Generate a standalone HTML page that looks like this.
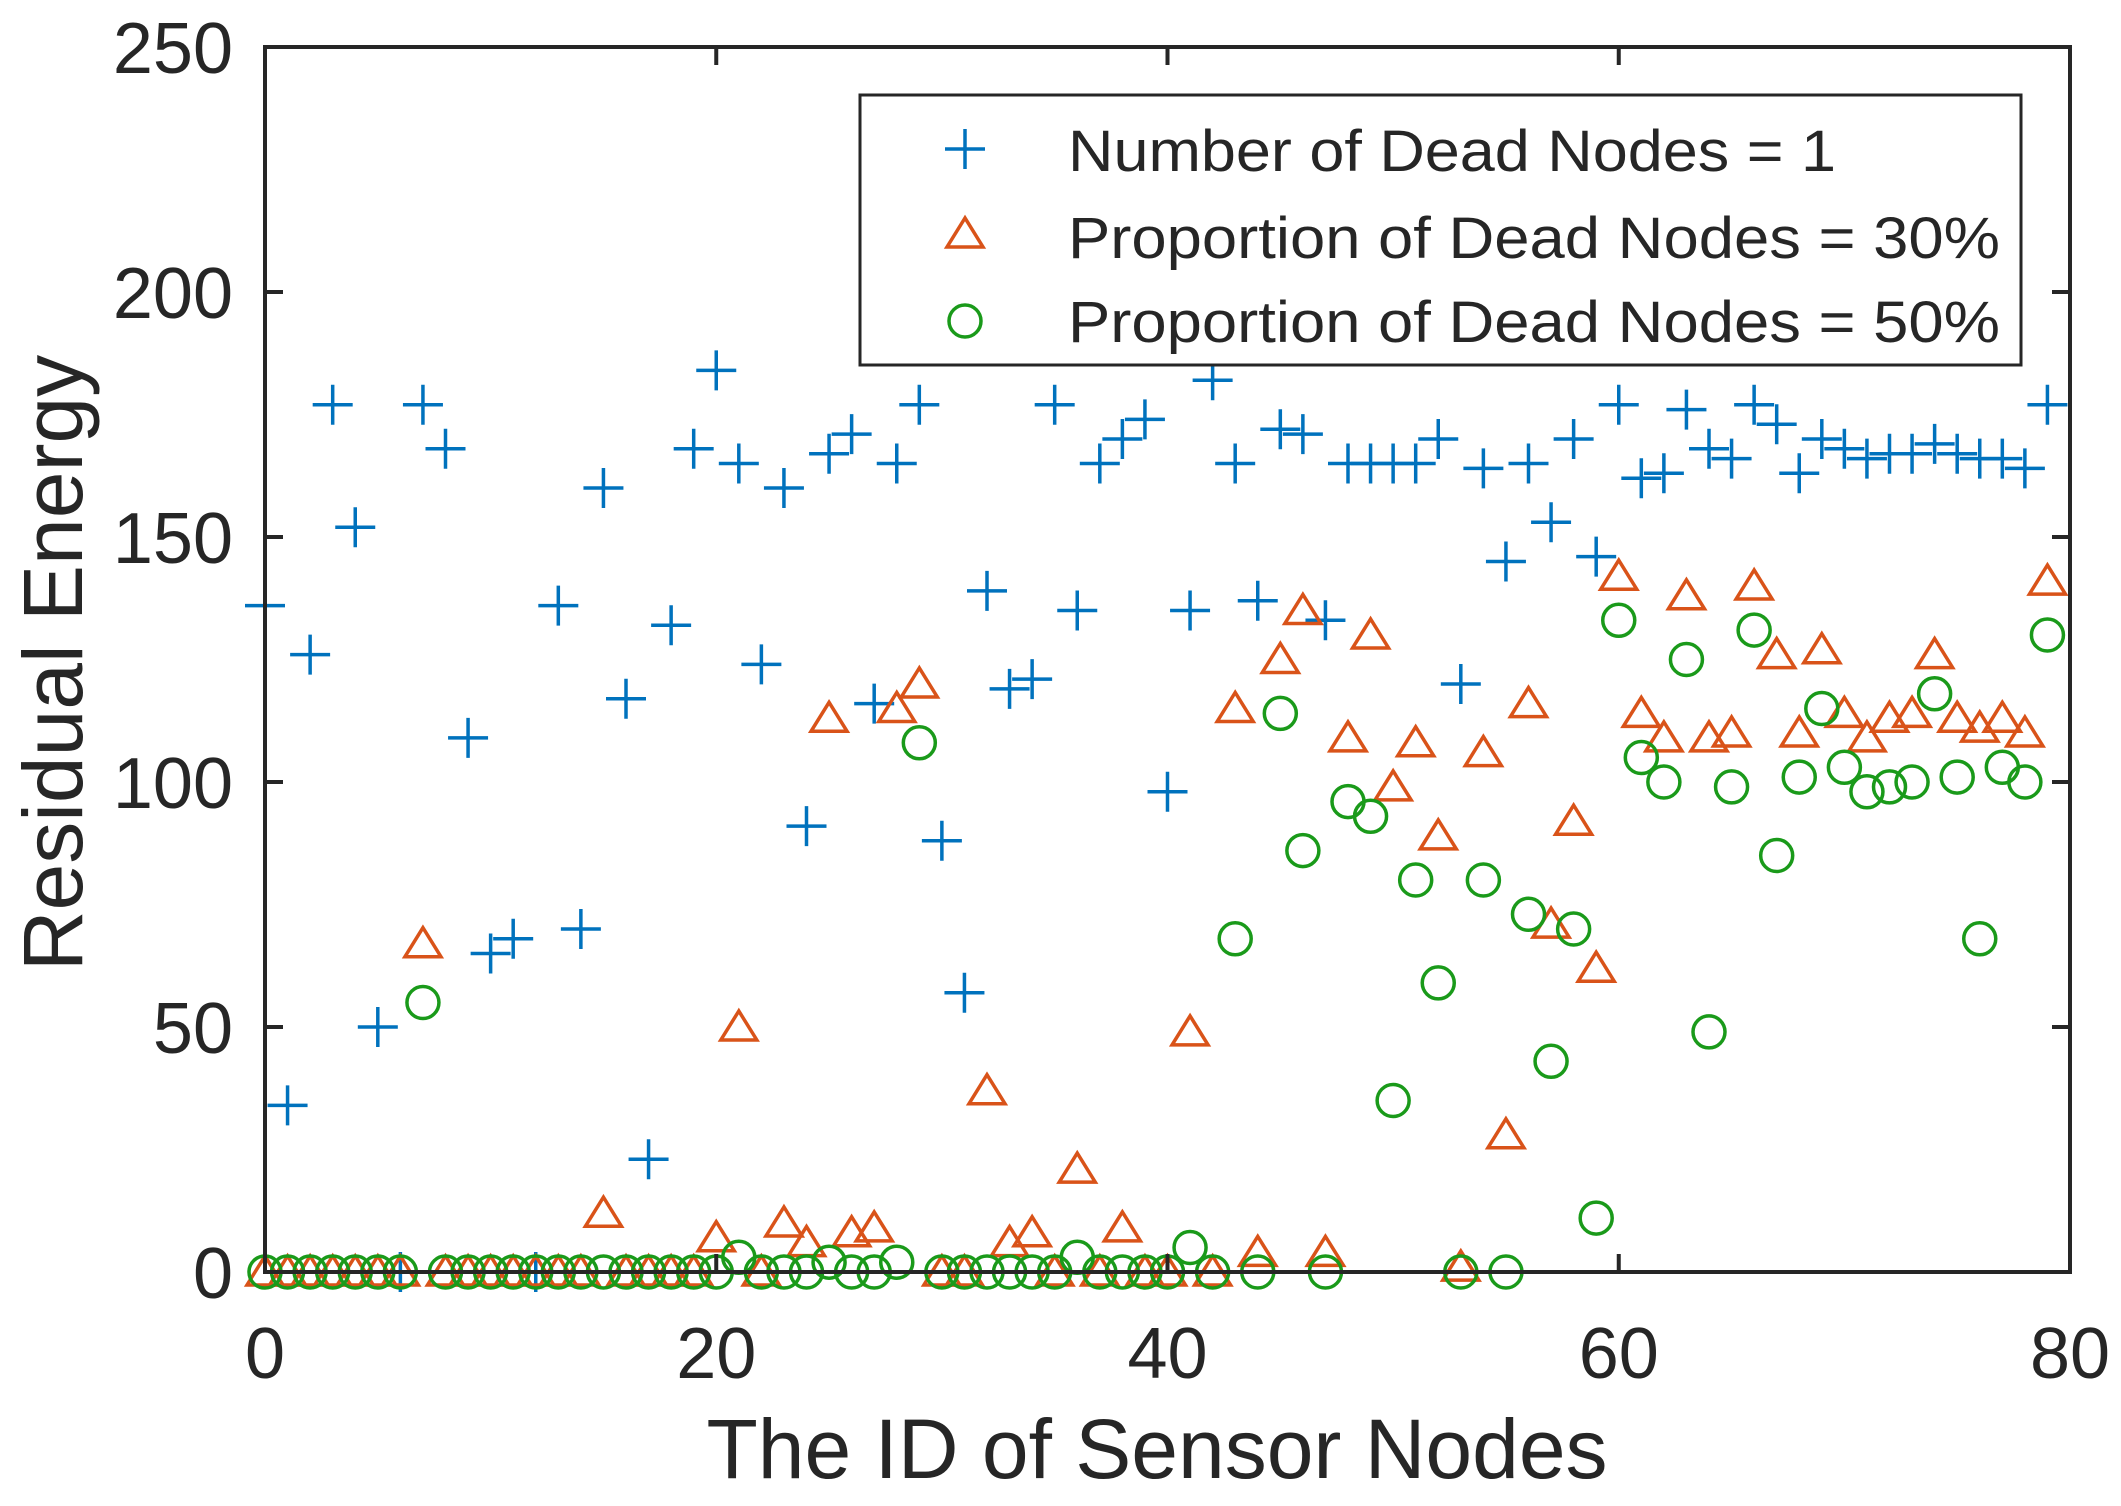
<!DOCTYPE html>
<html><head><meta charset="utf-8"><style>body{margin:0;background:#fff}svg{display:block}</style></head>
<body>
<svg id="s" width="2121" height="1506" xmlns="http://www.w3.org/2000/svg" font-family="Liberation Sans, sans-serif">
<rect width="2121" height="1506" fill="#fff"/>
<g id="data"></g>
<g id="axes"></g>
<rect x="860" y="95" width="1161" height="270" fill="#fff" stroke="#262626" stroke-width="3"/>
<g stroke-width="3.5" fill="none">
<path d="M945 149h40M965 129v40" stroke="#0072BD"/>
<path d="M965 218l-18 29h36z" stroke="#D95319"/>
<circle cx="965" cy="321" r="16" stroke="#1a9a1a"/>
</g>
<g font-size="58" fill="#262626">
<text x="1068" y="171" textLength="768" lengthAdjust="spacingAndGlyphs">Number of Dead Nodes = 1</text>
<text x="1068" y="258" textLength="932" lengthAdjust="spacingAndGlyphs">Proportion of Dead Nodes = 30%</text>
<text x="1068" y="342" textLength="932" lengthAdjust="spacingAndGlyphs">Proportion of Dead Nodes = 50%</text>
</g>
<text x="1157" y="1478" font-size="84" text-anchor="middle" fill="#262626">The ID of Sensor Nodes</text>
<text transform="translate(82,663) rotate(-90)" font-size="84" text-anchor="middle" fill="#262626">Residual Energy</text>
</svg>
<script>
var L=265,R=2070,T=47,B=1272;
function X(i){return L+(R-L)*i/80}
function Y(v){return B-(B-T)*v/250}
var blue=[136,34,126,177,152,50,0,177,168,109,65,68,0,136,70,160,117,23,132,168,184,165,124,160,91,167,171,116,165,177,88,57,139,119,121,177,135,165,170,174,98,135,182,165,137,172,171,133,165,165,165,165,170,120,164,145,165,153,170,146,177,162,163,176,168,166,177,173,163,170,168,166,167,167,169,167,166,166,164,177];
var orng=[0,0,0,0,0,0,0,67,0,0,0,0,0,0,0,12,0,0,0,0,7,50,0,10,6,113,8,9,115,120,0,0,37,6,8,0,21,0,9,0,0,49,0,115,4,125,135,4,109,130,99,108,89,1,106,28,116,71,92,62,142,114,109,138,109,110,140,126,110,127,114,109,113,114,126,113,111,113,110,141];
var grn=[0,0,0,0,0,0,0,55,0,0,0,0,0,0,0,0,0,0,0,0,0,3,0,0,0,2,0,0,2,108,0,0,0,0,0,0,3,0,0,0,0,5,0,68,0,114,86,0,96,93,35,80,59,0,80,0,73,43,70,11,133,105,100,125,49,99,131,85,101,115,103,98,99,100,118,101,68,103,100,130];
var h='';
for(var i=0;i<80;i++){var x=X(i),y=Y(blue[i]);h+='<path d="M'+(x-20)+' '+y+'h40M'+x+' '+(y-20)+'v40" stroke="#0072BD" stroke-width="3.5" fill="none"/>';}
for(var i=0;i<80;i++){var x=X(i),y=Y(orng[i]);h+='<path d="M'+x+' '+(y-16)+'l-18 29h36z" stroke="#D95319" stroke-width="3.5" fill="none"/>';}
for(var i=0;i<80;i++){var x=X(i),y=Y(grn[i]);h+='<circle cx="'+x+'" cy="'+y+'" r="16" stroke="#1a9a1a" stroke-width="3.5" fill="none"/>';}
document.getElementById('data').innerHTML=h;
var a='<rect x="'+L+'" y="'+T+'" width="'+(R-L)+'" height="'+(B-T)+'" fill="none" stroke="#262626" stroke-width="4"/>';
for(var v=0;v<=250;v+=50){var y=Y(v);a+='<path d="M'+L+' '+y+'h18M'+R+' '+y+'h-18" stroke="#262626" stroke-width="4"/>';a+='<text x="233" y="'+(y+26)+'" font-size="72" text-anchor="end" fill="#262626">'+v+'</text>';}
for(var k=0;k<=80;k+=20){var x=X(k);a+='<path d="M'+x+' '+B+'v-18M'+x+' '+T+'v18" stroke="#262626" stroke-width="4"/>';a+='<text x="'+x+'" y="1378" font-size="72" text-anchor="middle" fill="#262626">'+k+'</text>';}
document.getElementById('axes').innerHTML=a;
</script>
</body></html>
